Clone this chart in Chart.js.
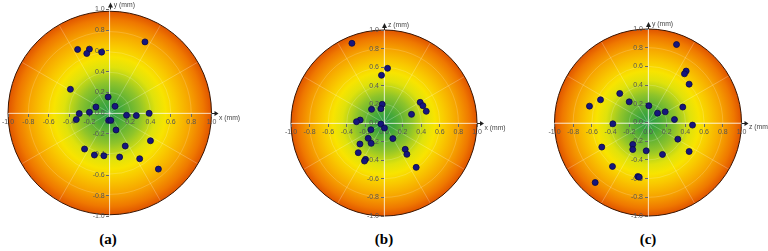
<!DOCTYPE html>
<html>
<head>
<meta charset="utf-8">
<script src="https://cdn.jsdelivr.net/npm/chart.js@4.4.1/dist/chart.umd.min.js"></script>
<style>
  body { margin: 0; background: #fff; width: 768px; height: 251px; position: relative; overflow: hidden; }
  .panel { position: absolute; top: 0; height: 225px; width: 256px; }
  .cap { position: absolute; top: 231px; width: 40px; margin-left: -20px; text-align: center;
         font-family: "Liberation Serif", "DejaVu Serif", serif; font-weight: bold; font-size: 15px; color: #000; }
</style>
</head>
<body>
<div class="panel" style="left:0"><canvas id="chartA"></canvas></div>
<div class="panel" style="left:256px"><canvas id="chartB"></canvas></div>
<div class="panel" style="left:512px"><canvas id="chartC"></canvas></div>
<div class="cap" style="left:108px">(a)</div>
<div class="cap" style="left:384px">(b)</div>
<div class="cap" style="left:648px">(c)</div>
<script>
// tick labels, same on every axis
const tickVals = [-1.0, -0.8, -0.6, -0.4, -0.2, 0.0, 0.2, 0.4, 0.6, 0.8, 1.0];
const ringVals = [0.2, 0.4, 0.6, 0.8];

// (a) x - y plane
const aX = [0.346, -0.316, -0.2, -0.226, -0.08, -0.387, -0.016, -0.136, 0.052, -0.3, -0.2, -0.329, 0.165,
            0.261, 0.387, -0.01, 0.01, 0.062, 0.4, 0.152, -0.248, -0.151, -0.058, 0.097, 0.294, 0.478];
const aY = [0.687, 0.614, 0.617, 0.575, 0.588, 0.229, 0.155, 0.058, 0.065, -0.006, 0.007, -0.064, -0.022,
            -0.025, -0.003, -0.071, -0.071, -0.164, -0.268, -0.319, -0.348, -0.406, -0.413, -0.426, -0.442, -0.542];

// (b) x - z plane
const bX = [-0.345, 0.038, -0.027, -0.019, -0.134, -0.033, 0.389, 0.418, 0.454, 0.296, -0.256, -0.296, -0.033,
            0.005, -0.141, 0.095, -0.17, -0.138, -0.259, 0.228, 0.246, -0.277, -0.199, -0.21, 0.346];
const bZ = [0.857, 0.588, 0.513, 0.201, 0.147, 0.154, 0.222, 0.186, 0.126, 0.093, 0.032, 0.014, -0.011,
            -0.054, -0.072, -0.168, -0.165, -0.219, -0.226, -0.283, -0.337, -0.319, -0.391, -0.409, -0.477];

// (c) z - y plane
const cZ = [0.305, 0.408, 0.39, 0.44, -0.302, -0.508, -0.201, -0.626, 0.009, 0.372, 0.102, 0.184, 0.283,
            -0.376, 0.476, -0.494, 0.319, -0.163, -0.163, -0.019, 0.155, 0.44, -0.38, -0.109, -0.094, -0.565];
const cY = [0.834, 0.55, 0.521, 0.41, 0.31, 0.243, 0.221, 0.175, 0.179, 0.165, 0.1, 0.114, 0.032,
            -0.014, -0.028, -0.263, -0.178, -0.235, -0.289, -0.303, -0.342, -0.31, -0.47, -0.578, -0.584, -0.642];

const tickFont = { size: 7, family: 'Liberation Sans' };

// gradient disc, spokes and rings under everything
const polarBg = {
    id: 'polarBg',
    beforeDraw(chart) {
        const ctx = chart.ctx;
        const sx = chart.scales.x, sy = chart.scales.y;
        const cx = sx.getPixelForValue(0), cy = sy.getPixelForValue(0);
        const r = sx.getPixelForValue(1) - cx;
        ctx.save();
        let g = ctx.createRadialGradient(cx, cy, 0, cx, cy, r);
        g.addColorStop(0.0, '#2a9c48');
        g.addColorStop(0.12, '#45a83a');
        g.addColorStop(0.3, '#8ec42a');
        g.addColorStop(0.45, '#dfe20c');
        g.addColorStop(0.55, '#f8e400');
        g.addColorStop(0.66, '#f9c800');
        g.addColorStop(0.8, '#f6a200');
        g.addColorStop(0.92, '#ef7800');
        g.addColorStop(1.0, '#e05400');
        ctx.beginPath();
        ctx.arc(cx, cy, r, 0, Math.PI * 2);
        ctx.fillStyle = g;
        ctx.fill();

        ctx.strokeStyle = 'rgba(255,255,255,0.3)';
        ctx.lineWidth = 0.8;
        for (let k = 0; k < 12; k++) {
            let a = k * Math.PI / 6;
            ctx.beginPath();
            ctx.moveTo(cx, cy);
            ctx.lineTo(cx + r * Math.cos(a), cy + r * Math.sin(a));
            ctx.stroke();
        }
        ctx.strokeStyle = 'rgba(255,255,255,0.22)';
        for (let v of ringVals) {
            ctx.beginPath();
            ctx.arc(cx, cy, v * r, 0, Math.PI * 2);
            ctx.stroke();
        }
        ctx.beginPath();
        ctx.arc(cx, cy, r, 0, Math.PI * 2);
        ctx.strokeStyle = '#3a1500';
        ctx.lineWidth = 1;
        ctx.stroke();
        ctx.restore();
    },
    afterDraw(chart) {
        // arrows past the rim and the axis names
        const ctx = chart.ctx;
        const sx = chart.scales.x, sy = chart.scales.y;
        const cx = sx.getPixelForValue(0), cy = sy.getPixelForValue(0);
        const xr = sx.getPixelForValue(1), yt = sy.getPixelForValue(1);
        const names = chart.options.plugins.polarBg;
        const lx = Math.round(cx) + 0.5, ly = Math.round(cy) + 0.5;
        ctx.save();
        ctx.strokeStyle = '#222';
        ctx.fillStyle = '#222';
        ctx.lineWidth = 1;
        ctx.beginPath();
        ctx.moveTo(xr, ly);
        ctx.lineTo(xr + 4, ly);
        ctx.moveTo(lx, yt);
        ctx.lineTo(lx, yt - 3);
        ctx.stroke();
        ctx.beginPath();
        ctx.moveTo(xr + 7, ly);
        ctx.lineTo(xr + 3, ly - 2.5);
        ctx.lineTo(xr + 3, ly + 2.5);
        ctx.closePath();
        ctx.fill();
        ctx.beginPath();
        ctx.moveTo(lx, yt - 7);
        ctx.lineTo(lx - 2.5, yt - 2);
        ctx.lineTo(lx + 2.5, yt - 2);
        ctx.closePath();
        ctx.fill();

        ctx.fillStyle = '#444';
        ctx.font = '6.8px "Liberation Sans"';
        ctx.textBaseline = 'middle';
        ctx.textAlign = 'left';
        ctx.fillText(names.h, xr + 7.5, cy + 5);
        ctx.fillText(names.v, cx + 4, yt - 4.5);
        ctx.restore();
    }
};

function axis(pos) {
    return {
        type: 'linear',
        min: -1,
        max: 1,
        position: pos,
        afterBuildTicks: s => { s.ticks = tickVals.map(v => ({ value: v })); },
        afterFit: s => { if (s.isHorizontal()) { s.height = 0; } else { s.width = 0; } },
        grid: { display: true, drawOnChartArea: false, drawTicks: true, tickLength: 3, color: '#666' },
        border: { display: true, color: 'rgba(255,255,255,0.6)', width: 1 },
        ticks: { font: tickFont, color: '#555', padding: 2, autoSkip: false, maxRotation: 0,
                 callback: v => v.toFixed(1) }
    };
}

function makeChart(id, xs, ys, pad, hName, vName) {
    const pts = xs.map((x, i) => ({ x: x, y: ys[i] }));
    const ctx = document.getElementById(id).getContext('2d');
    return new Chart(ctx, {
        type: 'scatter',
        data: {
            datasets: [{
                data: pts,
                backgroundColor: '#16167e',
                borderColor: '#0a0a45',
                borderWidth: 0.8,
                pointRadius: 3
            }]
        },
        options: {
            responsive: true,
            maintainAspectRatio: false,
            animation: false,
            layout: { padding: pad },
            scales: { x: axis('center'), y: axis('center') },
            plugins: {
                legend: { display: false },
                tooltip: { enabled: false },
                polarBg: { h: hName, v: vName }
            }
        },
        plugins: [polarBg]
    });
}

makeChart('chartA', aX, aY, { left: 4.5, top: 9.5, right: 44.5, bottom: 8.5 }, 'x (mm)', 'y (mm)');
makeChart('chartB', bX, bZ, { left: 35, top: 30, right: 35, bottom: 9 }, 'x (mm)', 'z (mm)');
makeChart('chartC', cZ, cY, { left: 42.5, top: 29, right: 26.5, bottom: 9 }, 'z (mm)', 'y (mm)');
</script>
</body>
</html>
